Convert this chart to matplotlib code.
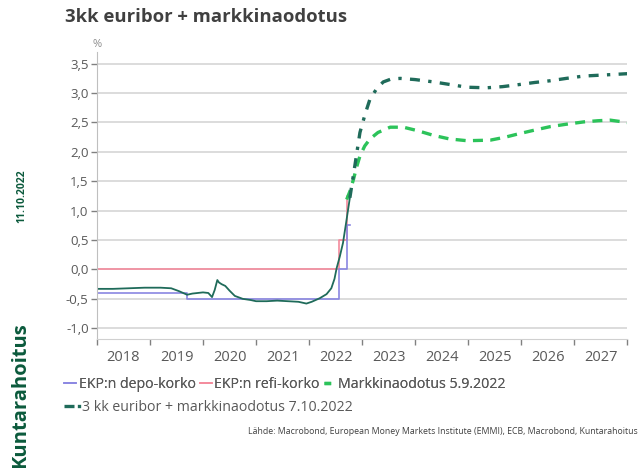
import matplotlib
matplotlib.use("Agg")
import matplotlib.pyplot as plt
from matplotlib.ticker import FixedLocator, FuncFormatter
from matplotlib.lines import Line2D

plt.rcParams['font.family'] = ['Open Sans', 'DejaVu Sans']

# EKP:n depo-korko (step series)
depo_t = [2018.0, 2019.69, 2022.57, 2022.71, 2022.77]
depo_v = [-0.40, -0.50, 0.00, 0.75, 0.75]

# EKP:n refi-korko (step series)
refi_t = [2018.0, 2022.57, 2022.71, 2022.77]
refi_v = [0.00, 0.50, 1.25, 1.25]

# 3 kk euribor, toteutunut
eur_t = [2018.0, 2018.3, 2018.6, 2018.9, 2019.2, 2019.4, 2019.55, 2019.7, 2019.8,
         2020.0, 2020.1, 2020.17, 2020.22, 2020.27, 2020.3, 2020.35, 2020.42,
         2020.5, 2020.6, 2020.75, 2020.9, 2021.0, 2021.2, 2021.4, 2021.6, 2021.8,
         2021.95, 2022.05, 2022.2, 2022.33, 2022.42, 2022.48, 2022.52, 2022.58,
         2022.64, 2022.70, 2022.77]
eur_v = [-0.33, -0.33, -0.32, -0.31, -0.31, -0.32, -0.37, -0.43, -0.41,
         -0.39, -0.40, -0.47, -0.35, -0.18, -0.22, -0.25, -0.28,
         -0.36, -0.45, -0.50, -0.52, -0.54, -0.54, -0.53, -0.54, -0.55,
         -0.58, -0.55, -0.49, -0.42, -0.32, -0.16, 0.02, 0.22,
         0.45, 0.80, 1.22]

# Markkinaodotus 7.10.2022 (jatkaa euriboria)
fc2_t = [2022.77, 2022.87, 2022.96, 2023.06, 2023.15, 2023.28, 2023.40, 2023.55, 2023.72,
         2024.0, 2024.35, 2024.7, 2024.98, 2025.35, 2025.65, 2025.92, 2026.25,
         2026.55, 2026.85, 2027.18, 2027.6, 2028.0]
fc2_v = [1.22, 1.80, 2.33, 2.65, 2.90, 3.08, 3.19, 3.24, 3.25,
         3.23, 3.19, 3.14, 3.10, 3.09, 3.11, 3.14, 3.18,
         3.21, 3.25, 3.29, 3.31, 3.33]

# Markkinaodotus 5.9.2022
fc1_t = [2022.71, 2022.78, 2022.84, 2022.90, 2022.96, 2023.05, 2023.15, 2023.30, 2023.53,
         2023.78, 2024.05, 2024.35, 2024.65, 2024.98, 2025.42, 2025.70, 2025.92,
         2026.25, 2026.55, 2026.85, 2027.18, 2027.45, 2027.68, 2028.0]
fc1_v = [1.19, 1.35, 1.54, 1.75, 1.93, 2.10, 2.22, 2.33, 2.42,
         2.42, 2.36, 2.28, 2.22, 2.19, 2.20, 2.25, 2.30,
         2.37, 2.43, 2.47, 2.51, 2.53, 2.54, 2.50]

years = list(range(2018, 2029))
year_labels = [str(y) for y in range(2018, 2028)]
yticks = [-1.0, -0.5, 0.0, 0.5, 1.0, 1.5, 2.0, 2.5, 3.0, 3.5]

c_depo = "#8a86e2"
c_refi = "#f48a9c"
c_eur = "#1f6b5a"
c_fc1 = "#2cc35a"
c_text = "#595959"
c_brand = "#0b5a3c"

fig = plt.figure(figsize=(6.38, 4.68), dpi=100)
ax = fig.add_axes([0.152, 0.276, 0.831, 0.613])

ax.plot(refi_t, refi_v, color=c_refi, lw=1.2, drawstyle="steps-post")
ax.plot(depo_t, depo_v, color=c_depo, lw=1.2, drawstyle="steps-post")
ax.plot(fc1_t, fc1_v, color=c_fc1, lw=2.4, linestyle=(0, (3, 2.2)))
ax.plot(eur_t, eur_v, color=c_eur, lw=1.3)
ax.plot(fc2_t, fc2_v, color=c_eur, lw=2.4, linestyle=(0, (3, 2.5, 1, 2.5)))

ax.set_xlim(2018, 2028)
ax.set_ylim(-1.18, 3.70)

ax.xaxis.set_major_locator(FixedLocator(years))
ax.xaxis.set_minor_locator(FixedLocator([y + 0.5 for y in range(2018, 2028)]))
ax.set_xticklabels([])
ax.set_xticklabels(year_labels, minor=True)
ax.tick_params(axis="x", which="major", length=4, width=1, color="#808080")
ax.tick_params(axis="x", which="minor", length=0, pad=8, labelsize=10.5, labelcolor=c_text)

ax.set_yticks(yticks)
ax.yaxis.set_major_formatter(FuncFormatter(lambda v, p: ("%.1f" % v).replace(".", ",")))
ax.tick_params(axis="y", length=4, width=1, color="#808080", labelsize=9.5,
               labelcolor=c_text, pad=2)

ax.grid(axis="y", color="#d9d9d9", lw=1.3)
ax.set_axisbelow(True)
for s in ["top", "right"]:
    ax.spines[s].set_visible(False)
ax.spines["left"].set_color("#bfbfbf")
ax.spines["bottom"].set_color("#d0d0d0")

fig.text(0.102, 0.963, "3kk euribor + markkinaodotus", fontsize=13.3, fontweight="bold",
         color="#404040", va="center", ha="left")
fig.text(0.152, 0.905, "%", fontsize=8, color="#8c8c8c", ha="center", va="center")

h1 = [Line2D([], [], color=c_depo, lw=1.2),
      Line2D([], [], color=c_refi, lw=1.2),
      Line2D([], [], color=c_fc1, lw=2.4, linestyle=(0, (2, 2)))]
leg1 = fig.legend(h1, ["EKP:n depo-korko", "EKP:n refi-korko", "Markkinaodotus 5.9.2022"],
                  loc="center left", bbox_to_anchor=(0.101, 0.179), ncol=3, frameon=False,
                  fontsize=10.2, handlelength=0.85, handletextpad=0.15, columnspacing=0.3,
                  labelcolor=c_text, borderaxespad=0, borderpad=0)
h2 = [Line2D([], [], color=c_eur, lw=2.4, linestyle=(0, (3, 1, 1, 1)))]
fig.legend(h2, ["3 kk euribor + markkinaodotus 7.10.2022"],
           loc="center left", bbox_to_anchor=(0.101, 0.13), frameon=False,
           fontsize=10.2, handlelength=1.15, handletextpad=0.1,
           labelcolor=c_text, borderaxespad=0, borderpad=0)
fig.add_artist(leg1)

fig.text(1.0, 0.077, "Lähde: Macrobond, European Money Markets Institute (EMMI), ECB, Macrobond, Kuntarahoitus",
         fontsize=6.3, color="#404040", ha="right", va="center")

fig.text(0.034, 0.58, "11.10.2022", rotation=90, fontsize=7.5, fontweight="bold",
         color=c_brand, ha="center", va="center")
fig.text(0.032, 0.0, "Kuntarahoitus", rotation=90, fontsize=14.5, fontweight="bold",
         color=c_brand, ha="center", va="bottom")

fig.savefig("out.png", dpi=100)
